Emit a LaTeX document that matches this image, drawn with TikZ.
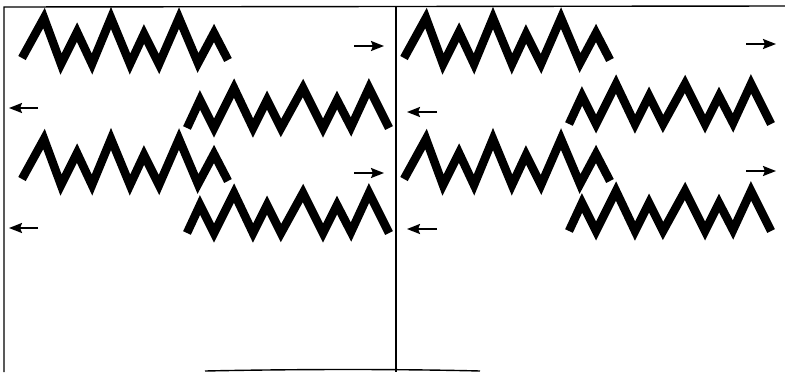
\documentclass[tikz,border=0pt]{standalone}
\usetikzlibrary{arrows.meta}
\tikzset{
  frameline/.style={line width=1.4pt, black},
  spring/.style={line width=8.5pt, black, line join=miter, line cap=butt},
  motion/.style={line width=2pt, black, arrows={-Stealth[length=13pt,width=10pt,inset=2pt]}},
  zigA/.pic={\draw[spring] (0,0) -- (22,-40) -- (39,6) -- (55,-26) -- (70,6) -- (89,-40) -- (108,6) -- (122,-24) -- (137,6) -- (157,-40) -- (176,5) -- (192,-25) -- (206,2);},
  zigB/.pic={\draw[spring] (0,0) -- (13,-28) -- (27,0) -- (47,-40) -- (66,0) -- (80,-28) -- (94,0) -- (116,-40) -- (136,0) -- (150,-28) -- (164,-1) -- (182,-40) -- (202,0);}
}
\begin{document}
\begin{tikzpicture}[x=1pt,y=-1pt]
\useasboundingbox (0,0) rectangle (785,373);
% frame
\coordinate (tl) at (4,7);
\coordinate (tr) at (785,6);
\coordinate (bl) at (4,372);
\coordinate (mt) at (396,7);
\coordinate (mb) at (396,372);
\coordinate (b1) at (205,371);
\coordinate (b2) at (480,371);
\draw[frameline] (bl) -- (tl) -- (tr);
\draw[frameline] (mt) -- (mb);
\draw[frameline] (b1) .. controls (300,369) and (400,369) .. (b2);
% left panel springs
\pic at (22,58) {zigA};
\pic at (187,128) {zigB};
\pic at (22,179) {zigA};
\pic at (187,233) {zigB};
% right panel springs
\pic at (404,58) {zigA};
\pic at (569,124) {zigB};
\pic at (404,179) {zigA};
\pic at (569,231) {zigB};
% arrows left
\coordinate (a1s) at (354,46);  \coordinate (a1e) at (384,46);
\coordinate (a2s) at (38,108);  \coordinate (a2e) at (9,108);
\coordinate (a3s) at (354,173); \coordinate (a3e) at (384,173);
\coordinate (a4s) at (38,228);  \coordinate (a4e) at (9,228);
% arrows right
\coordinate (a5s) at (746,44);  \coordinate (a5e) at (776,44);
\coordinate (a6s) at (437,112); \coordinate (a6e) at (407,112);
\coordinate (a7s) at (746,171); \coordinate (a7e) at (776,171);
\coordinate (a8s) at (437,229); \coordinate (a8e) at (407,229);
\draw[motion] (a1s) -- (a1e);
\draw[motion] (a2s) -- (a2e);
\draw[motion] (a3s) -- (a3e);
\draw[motion] (a4s) -- (a4e);
\draw[motion] (a5s) -- (a5e);
\draw[motion] (a6s) -- (a6e);
\draw[motion] (a7s) -- (a7e);
\draw[motion] (a8s) -- (a8e);
\end{tikzpicture}
\end{document}
